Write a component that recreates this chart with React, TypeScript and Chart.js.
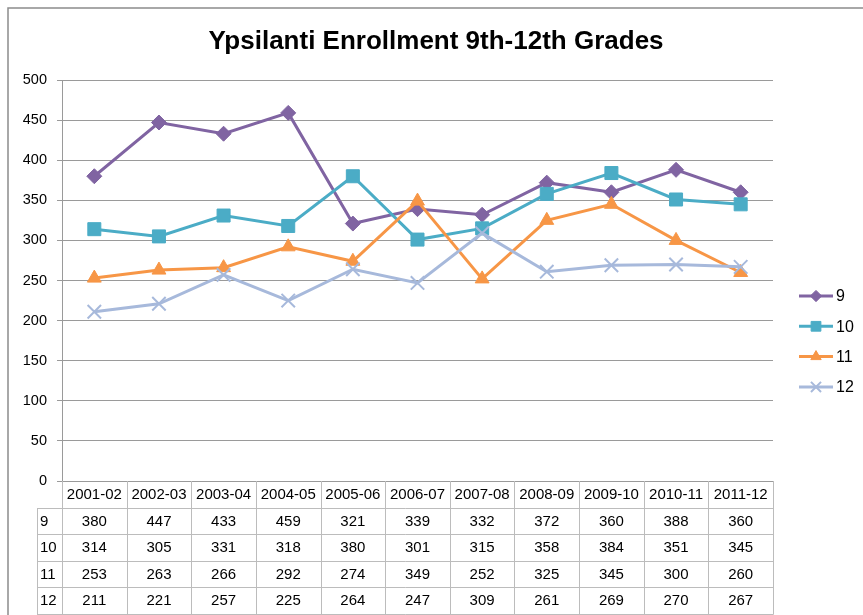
import React, { useEffect, useRef } from "react";
import { Chart, registerables } from "chart.js";
import { drawPoint } from "chart.js/helpers";

Chart.register(...registerables);

const categories = [
  "2001-02", "2002-03", "2003-04", "2004-05", "2005-06", "2006-07",
  "2007-08", "2008-09", "2009-10", "2010-11", "2011-12",
];
const grade9 = [380, 447, 433, 459, 321, 339, 332, 372, 360, 388, 360];
const grade10 = [314, 305, 331, 318, 380, 301, 315, 358, 384, 351, 345];
const grade11 = [253, 263, 266, 292, 274, 349, 252, 325, 345, 300, 260];
const grade12 = [211, 221, 257, 225, 264, 247, 309, 261, 269, 270, 267];
const seriesNames = ["9", "10", "11", "12"];
const seriesColors = ["#8064A2", "#4BACC6", "#F79646", "#A7B9DB"];
const seriesMarkers = ["rectRot", "rect", "triangle", "crossRot"];
const markerRadius = [7.5, 9.2, 8, 9.5];
const chartTitle = "Ypsilanti Enrollment 9th-12th Grades";
const yMin = 0;
const yMax = 500;
const yStep = 50;

const FONT = "'Liberation Sans', Arial, sans-serif";

const framePlugin = {
  id: "frame",
  beforeDraw(chart: any) {
    const ctx = chart.ctx;
    ctx.save();
    ctx.fillStyle = "#ffffff";
    ctx.fillRect(0, 0, chart.width, chart.height);
    ctx.strokeStyle = "#8c8c8c";
    ctx.lineWidth = 1.5;
    ctx.strokeRect(8, 8, chart.width + 20, chart.height + 20);
    ctx.restore();
  },
};

const titlePlugin = {
  id: "excelTitle",
  afterDraw(chart: any) {
    const ctx = chart.ctx;
    ctx.save();
    ctx.fillStyle = "#000";
    ctx.font = `bold 26px ${FONT}`;
    ctx.textAlign = "center";
    ctx.textBaseline = "alphabetic";
    ctx.fillText(chartTitle, 436, 49);
    ctx.restore();
  },
};

const tablePlugin = {
  id: "dataTable",
  afterDraw(chart: any) {
    const ctx = chart.ctx;
    const ca = chart.chartArea;
    const xs = chart.scales.x;
    const n = categories.length;
    const colW = (ca.right - ca.left) / n;
    const top = ca.bottom;
    const headerH = 26.5;
    const rowH = 26.5;
    const labelLeft = 37;
    const rows = chart.data.datasets;
    const bottom = top + headerH + rows.length * rowH;
    const px = (v: number) => Math.round(v) + 0.5;

    ctx.save();
    ctx.strokeStyle = "#bcbcbc";
    ctx.lineWidth = 1;
    ctx.beginPath();
    for (let r = 0; r <= rows.length; r++) {
      const y = px(top + headerH + r * rowH);
      ctx.moveTo(labelLeft, y);
      ctx.lineTo(px(ca.right), y);
    }
    for (let c = 0; c <= n; c++) {
      const x = px(ca.left + c * colW);
      ctx.moveTo(x, top);
      ctx.lineTo(x, px(bottom));
    }
    ctx.moveTo(px(labelLeft), px(top + headerH));
    ctx.lineTo(px(labelLeft), px(bottom));
    ctx.stroke();

    ctx.fillStyle = "#000";
    ctx.font = `15px ${FONT}`;
    ctx.textBaseline = "middle";
    ctx.textAlign = "center";
    categories.forEach((c, i) => {
      ctx.fillText(c, xs.getPixelForValue(i), top + headerH / 2 + 1);
    });
    rows.forEach((ds: any, r: number) => {
      const yc = top + headerH + r * rowH + rowH / 2 + 1;
      ctx.textAlign = "left";
      ctx.fillText(ds.label, labelLeft + 3, yc);
      ctx.textAlign = "center";
      ds.data.forEach((v: number, i: number) => {
        ctx.fillText(String(v), xs.getPixelForValue(i), yc);
      });
    });
    ctx.restore();
  },
};

const legendPlugin = {
  id: "excelLegend",
  afterDraw(chart: any) {
    const ctx = chart.ctx;
    const startY = 296;
    const gap = 30.3;
    ctx.save();
    chart.data.datasets.forEach((ds: any, i: number) => {
      const y = startY + i * gap;
      ctx.strokeStyle = ds.borderColor;
      ctx.lineWidth = 3;
      ctx.beginPath();
      ctx.moveTo(799, y);
      ctx.lineTo(833, y);
      ctx.stroke();
      ctx.fillStyle = ds.borderColor;
      ctx.strokeStyle = ds.borderColor;
      ctx.lineWidth = ds.pointBorderWidth;
      drawPoint(
        ctx,
        {
          pointStyle: ds.pointStyle,
          radius: ds.pointRadius * 0.75,
          rotation: 0,
          borderWidth: ds.pointBorderWidth,
        } as any,
        816,
        y
      );
      ctx.fillStyle = "#000";
      ctx.font = `16px ${FONT}`;
      ctx.textAlign = "left";
      ctx.textBaseline = "middle";
      ctx.fillText(ds.label, 836, y + 1);
    });
    ctx.restore();
  },
};

export default function App() {
  const ref = useRef<HTMLCanvasElement>(null);

  useEffect(() => {
    const values = [grade9, grade10, grade11, grade12];
    const chart = new Chart(ref.current as HTMLCanvasElement, {
      type: "line",
      data: {
        labels: categories,
        datasets: values.map((d, i) => ({
          label: seriesNames[i],
          data: d,
          borderColor: seriesColors[i],
          backgroundColor: seriesColors[i],
          borderWidth: 3,
          pointStyle: seriesMarkers[i] as any,
          pointRadius: markerRadius[i],
          pointBackgroundColor: seriesColors[i],
          pointBorderColor: seriesColors[i],
          pointBorderWidth: i === 3 ? 2 : 1,
          tension: 0,
          fill: false,
          order: 4 - i,
        })),
      },
      options: {
        responsive: false,
        animation: false,
        devicePixelRatio: 1,
        layout: { padding: { left: 0, top: 80, right: 90, bottom: 134 } },
        scales: {
          x: { type: "category", offset: true, display: false },
          y: {
            min: yMin,
            max: yMax,
            ticks: {
              stepSize: yStep,
              padding: 10,
              color: "#000",
              font: { family: FONT, size: 14.5 },
            },
            grid: { color: "#9a9a9a", tickLength: 5, drawTicks: true, lineWidth: 1 },
            border: { color: "#9a9a9a", width: 1 },
            afterFit: (s: any) => {
              s.width = 62;
            },
          },
        },
        plugins: {
          legend: { display: false },
          title: { display: false },
          tooltip: { enabled: false },
        },
      },
      plugins: [framePlugin, titlePlugin, tablePlugin, legendPlugin],
    });
    return () => chart.destroy();
  }, []);

  return (
    <canvas
      ref={ref}
      width={863}
      height={615}
      style={{ position: "absolute", left: 0, top: 0 }}
    />
  );
}
